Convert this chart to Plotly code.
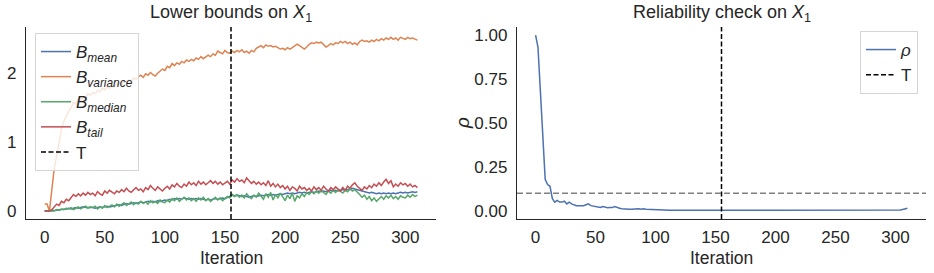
import plotly.graph_objects as go

# ---------------- data ----------------
iterations = list(range(0, 311, 2))
T_iter = 155
rho_threshold = 0.1

b_variance = [
    0.10, 0.10, 0.00, 0.35, 0.62, 0.80, 1.02, 1.18, 1.30, 1.38,
    1.45, 1.50, 1.58, 1.55, 1.62, 1.60, 1.66, 1.64, 1.70, 1.68,
    1.72, 1.70, 1.75, 1.73, 1.78, 1.76, 1.80, 1.78, 1.82, 1.80,
    1.84, 1.86, 1.83, 1.88, 1.86, 1.90, 1.88, 1.93, 1.91, 1.95,
    1.97, 1.94, 1.99, 1.97, 2.01, 1.98, 1.96, 2.00, 2.03, 2.06,
    2.04, 2.10, 2.08, 2.14, 2.11, 2.15, 2.13, 2.17, 2.15, 2.19,
    2.17, 2.20, 2.18, 2.22, 2.20, 2.24, 2.21, 2.23, 2.26, 2.24,
    2.28, 2.26, 2.32, 2.30, 2.28, 2.33, 2.30, 2.29, 2.32, 2.30,
    2.33, 2.31, 2.34, 2.30, 2.32, 2.29, 2.33, 2.31, 2.36, 2.38,
    2.40, 2.37, 2.41, 2.39, 2.40, 2.38, 2.39, 2.37, 2.35, 2.36,
    2.34, 2.37, 2.35, 2.37, 2.39, 2.42, 2.40, 2.38, 2.35, 2.38,
    2.42, 2.44, 2.43, 2.45, 2.44, 2.45, 2.42, 2.38, 2.40, 2.43,
    2.41, 2.44, 2.43, 2.46, 2.44, 2.46, 2.43, 2.45, 2.42, 2.44,
    2.41, 2.46, 2.48, 2.46, 2.47, 2.45, 2.48, 2.46, 2.49, 2.47,
    2.50, 2.48, 2.51, 2.49, 2.52, 2.49, 2.51, 2.48, 2.52, 2.50,
    2.49, 2.52, 2.50, 2.51, 2.49, 2.48,
]

b_tail = [
    0.00, 0.00, 0.00, 0.02, 0.06, 0.10, 0.08, 0.14, 0.12, 0.17,
    0.15, 0.20, 0.24, 0.21, 0.25, 0.22, 0.26, 0.23, 0.27, 0.24,
    0.26, 0.22, 0.28, 0.25, 0.23, 0.29, 0.26, 0.30, 0.27, 0.25,
    0.29, 0.27, 0.31, 0.28, 0.33, 0.29, 0.27, 0.31, 0.34, 0.30,
    0.32, 0.28, 0.34, 0.31, 0.37, 0.33, 0.30, 0.35, 0.32, 0.29,
    0.33, 0.36, 0.32, 0.38, 0.35, 0.40, 0.36, 0.34, 0.39, 0.36,
    0.42, 0.38, 0.41, 0.37, 0.43, 0.39, 0.42, 0.38, 0.41, 0.44,
    0.40, 0.43, 0.39, 0.42, 0.38, 0.41, 0.43, 0.39, 0.45, 0.42,
    0.47, 0.43, 0.45, 0.41, 0.48, 0.44, 0.40, 0.43, 0.39, 0.42,
    0.38, 0.41, 0.37, 0.44, 0.36, 0.40, 0.35, 0.39, 0.34, 0.37,
    0.32, 0.36, 0.30, 0.35, 0.33, 0.29, 0.36, 0.32, 0.34, 0.30,
    0.33, 0.29, 0.35, 0.31, 0.34, 0.30, 0.36, 0.32, 0.29, 0.34,
    0.31, 0.35, 0.32, 0.29, 0.34, 0.30, 0.36, 0.33, 0.38, 0.41,
    0.36, 0.33, 0.30, 0.35, 0.32, 0.37, 0.34, 0.39, 0.36, 0.41,
    0.37, 0.42, 0.46, 0.40, 0.44, 0.35, 0.39, 0.36, 0.41, 0.38,
    0.40, 0.36, 0.39, 0.35, 0.37, 0.34,
]

b_mean = [
    0.00, 0.00, 0.00, 0.00, 0.01, 0.01, 0.02, 0.02, 0.03, 0.03,
    0.04, 0.03, 0.04, 0.05, 0.04, 0.05, 0.06, 0.05, 0.05, 0.06,
    0.05, 0.04, 0.05, 0.06, 0.05, 0.06, 0.07, 0.06, 0.07, 0.08,
    0.08, 0.09, 0.08, 0.10, 0.11, 0.10, 0.11, 0.12, 0.11, 0.12,
    0.13, 0.12, 0.13, 0.14, 0.13, 0.14, 0.13, 0.15, 0.14, 0.15,
    0.16, 0.15, 0.17, 0.16, 0.18, 0.17, 0.18, 0.17, 0.19, 0.18,
    0.17, 0.18, 0.17, 0.18, 0.17, 0.18, 0.17, 0.16, 0.17, 0.16,
    0.17, 0.18, 0.17, 0.18, 0.19, 0.18, 0.20, 0.21, 0.23, 0.22,
    0.23, 0.22, 0.21, 0.22, 0.21, 0.20, 0.21, 0.22, 0.21, 0.22,
    0.23, 0.22, 0.23, 0.24, 0.23, 0.24, 0.23, 0.24, 0.25, 0.24,
    0.25, 0.26, 0.25, 0.26, 0.25, 0.26, 0.27, 0.26, 0.27, 0.26,
    0.27, 0.28, 0.27, 0.28, 0.29, 0.28, 0.29, 0.28, 0.29, 0.30,
    0.29, 0.30, 0.29, 0.30, 0.31, 0.30, 0.31, 0.32, 0.33, 0.32,
    0.31, 0.30, 0.29, 0.28, 0.27, 0.26, 0.27, 0.26, 0.25, 0.26,
    0.25, 0.26, 0.25, 0.26, 0.25, 0.26, 0.25, 0.26, 0.27, 0.26,
    0.27, 0.26, 0.27, 0.28, 0.27, 0.28,
]

b_median = [
    0.00, 0.00, 0.00, 0.01, 0.00, 0.02, 0.01, 0.03, 0.02, 0.04,
    0.03, 0.05, 0.02, 0.04, 0.06, 0.03, 0.05, 0.07, 0.04, 0.06,
    0.05, 0.07, 0.03, 0.06, 0.04, 0.08, 0.05, 0.07, 0.09, 0.06,
    0.10, 0.07, 0.09, 0.12, 0.08, 0.11, 0.13, 0.09, 0.12, 0.10,
    0.14, 0.11, 0.13, 0.10, 0.15, 0.12, 0.14, 0.11, 0.16, 0.13,
    0.12, 0.16, 0.13, 0.18, 0.15, 0.19, 0.14, 0.17, 0.20, 0.16,
    0.19, 0.15, 0.18, 0.14, 0.19, 0.16, 0.20, 0.15, 0.18, 0.14,
    0.17, 0.20, 0.16, 0.19, 0.15, 0.18, 0.21, 0.19, 0.24, 0.21,
    0.24, 0.20, 0.23, 0.19, 0.25, 0.21, 0.18, 0.23, 0.20, 0.26,
    0.22, 0.17, 0.25, 0.20, 0.27, 0.16, 0.24, 0.19, 0.26, 0.21,
    0.15, 0.23, 0.18, 0.26, 0.14, 0.22, 0.19, 0.25, 0.21, 0.27,
    0.24, 0.28, 0.25, 0.29, 0.26, 0.30, 0.27, 0.24, 0.29, 0.26,
    0.30, 0.27, 0.31, 0.28, 0.26, 0.30, 0.28, 0.32, 0.29, 0.31,
    0.28, 0.24, 0.20, 0.23, 0.17, 0.21, 0.15, 0.19, 0.14, 0.18,
    0.21, 0.17, 0.22, 0.19, 0.23, 0.18, 0.21, 0.17, 0.22, 0.20,
    0.19, 0.23, 0.20, 0.24, 0.21, 0.23,
]

rho = [
    1.00, 0.93, 0.68, 0.43, 0.18, 0.15, 0.14, 0.07, 0.05, 0.06,
    0.05, 0.05, 0.055, 0.04, 0.05, 0.04, 0.035, 0.03, 0.03, 0.028,
    0.03, 0.035, 0.04, 0.03, 0.028, 0.022, 0.02, 0.02, 0.025, 0.02,
    0.018, 0.02, 0.019, 0.025, 0.018, 0.015, 0.012, 0.01, 0.011, 0.01,
    0.009, 0.011, 0.01, 0.012, 0.009, 0.012, 0.01, 0.009, 0.011, 0.009,
    0.007, 0.006, 0.005, 0.005, 0.004, 0.005, 0.004, 0.004, 0.004, 0.004,
    0.004, 0.003, 0.004, 0.003, 0.003, 0.004, 0.003, 0.003, 0.003, 0.003,
    0.003, 0.003, 0.003, 0.003, 0.003, 0.003, 0.003, 0.003, 0.003, 0.003,
    0.003, 0.003, 0.003, 0.003, 0.003, 0.003, 0.003, 0.004, 0.004, 0.003,
    0.003, 0.004, 0.003, 0.003, 0.003, 0.003, 0.003, 0.003, 0.003, 0.003,
    0.003, 0.003, 0.003, 0.003, 0.003, 0.003, 0.003, 0.003, 0.003, 0.003,
    0.003, 0.003, 0.003, 0.003, 0.003, 0.003, 0.003, 0.003, 0.003, 0.003,
    0.003, 0.003, 0.003, 0.003, 0.003, 0.003, 0.003, 0.003, 0.003, 0.003,
    0.003, 0.003, 0.003, 0.003, 0.003, 0.003, 0.003, 0.003, 0.003, 0.003,
    0.003, 0.003, 0.003, 0.003, 0.003, 0.003, 0.003, 0.003, 0.003, 0.003,
    0.003, 0.004, 0.005, 0.008, 0.011, 0.015,
]

left_x_ticks = [0, 50, 100, 150, 200, 250, 300]
left_y_ticks = [0, 1, 2]
right_y_ticks = [0.0, 0.25, 0.5, 0.75, 1.0]
right_y_ticktext = ["0.00", "0.25", "0.50", "0.75", "1.00"]

# ---------------- styling ----------------
W, H = 934, 273
FONT = "Liberation Sans, Arial, sans-serif"
TXT = "#262626"
BLUE, ORANGE, GREEN, RED = "#4C72B0", "#DD8452", "#55A868", "#C44E52"
LW = 1.5
TICK_SIZE = 17

fig = go.Figure()

series = [
    ("<i>B</i><sub><i>mean</i></sub>", b_mean, BLUE),
    ("<i>B</i><sub><i>variance</i></sub>", b_variance, ORANGE),
    ("<i>B</i><sub><i>median</i></sub>", b_median, GREEN),
    ("<i>B</i><sub><i>tail</i></sub>", b_tail, RED),
]
for name, vals, col in series:
    fig.add_trace(go.Scatter(x=iterations, y=vals, mode="lines", name=name,
                             line=dict(color=col, width=LW), xaxis="x", yaxis="y",
                             legend="legend", hoverinfo="skip"))

fig.add_trace(go.Scatter(x=iterations, y=rho, mode="lines", name="<i>ρ</i>",
                         line=dict(color=BLUE, width=LW), xaxis="x2", yaxis="y2",
                         legend="legend2", hoverinfo="skip"))

# T vertical lines (with legend entries)
fig.add_shape(type="line", x0=T_iter, x1=T_iter, y0=0, y1=1, xref="x", yref="y domain",
              line=dict(color="black", width=LW, dash="5px,2.5px"),
              showlegend=True, name="T", legend="legend")
fig.add_shape(type="line", x0=T_iter, x1=T_iter, y0=0, y1=1, xref="x2", yref="y2 domain",
              line=dict(color="black", width=LW, dash="5px,2.5px"),
              showlegend=True, name="T", legend="legend2")
# threshold line
fig.add_shape(type="line", x0=0, x1=1, y0=rho_threshold, y1=rho_threshold,
              xref="x2 domain", yref="y2",
              line=dict(color="#808080", width=LW, dash="6px,3px"))

ydom = [54 / H, 246 / H]
axis_common = dict(showgrid=False, zeroline=False, showline=True, linecolor=TXT,
                   linewidth=1.25, ticks="", tickfont=dict(family=FONT, size=TICK_SIZE, color=TXT),
                   ticklabelstandoff=2, automargin=False)

def label(text, x, y, angle=0, size=17.5):
    return dict(text=text, x=x / W, y=1 - y / H, xref="paper", yref="paper",
                xanchor="center", yanchor="middle", textangle=angle, showarrow=False,
                font=dict(family=FONT, size=size, color=TXT))

fig.update_layout(
    width=W, height=H,
    margin=dict(l=0, r=0, t=0, b=0),
    paper_bgcolor="white", plot_bgcolor="white",
    font=dict(family=FONT, size=17, color=TXT),
    hovermode=False,
    xaxis=dict(domain=[26 / W, 436 / W], range=[-15.5, 325.5], tickvals=left_x_ticks,
               anchor="y", **axis_common),
    yaxis=dict(domain=ydom, range=[-0.116, 2.67], tickvals=left_y_ticks, anchor="x",
               **dict(axis_common, ticklabelstandoff=5)),
    xaxis2=dict(domain=[517 / W, 926 / W], range=[-15.5, 325.5], tickvals=left_x_ticks,
                anchor="y2", **axis_common),
    yaxis2=dict(domain=ydom, range=[-0.046, 1.046], tickvals=right_y_ticks,
                ticktext=right_y_ticktext, anchor="x2", **dict(axis_common, ticklabelstandoff=5)),
    legend=dict(x=35 / W, y=1 - 33 / H, xanchor="left", yanchor="top",
                bgcolor="rgba(255,255,255,0.8)", bordercolor="#d5d5d5", borderwidth=1,
                font=dict(family=FONT, size=17, color=TXT)),
    legend2=dict(x=918 / W, y=1 - 31 / H, xanchor="right", yanchor="top",
                 bgcolor="rgba(255,255,255,0.8)", bordercolor="#d5d5d5", borderwidth=1,
                 font=dict(family=FONT, size=17, color=TXT)),
    showlegend=True,
    annotations=[
        dict(text="Lower bounds on <i>X</i><sub>1</sub>", x=(26 + 436) / 2 / W, y=1 - 27 / H,
             xref="paper", yref="paper", xanchor="center", yanchor="bottom", yshift=0,
             showarrow=False, font=dict(family=FONT, size=18, color=TXT)),
        dict(text="Reliability check on <i>X</i><sub>1</sub>", x=(517 + 926) / 2 / W, y=1 - 27 / H,
             xref="paper", yref="paper", xanchor="center", yanchor="bottom", yshift=0,
             showarrow=False, font=dict(family=FONT, size=18, color=TXT)),
        label("Iteration", (26 + 436) / 2, 258),
        label("Iteration", (517 + 926) / 2, 258),
        label("<i>ρ</i>", 463, 123, angle=-90, size=19),
    ],
)

fig.write_html("out.html", config={"displayModeBar": False, "staticPlot": True},
               post_script="document.body.style.margin='0';document.body.style.overflow='hidden';")
